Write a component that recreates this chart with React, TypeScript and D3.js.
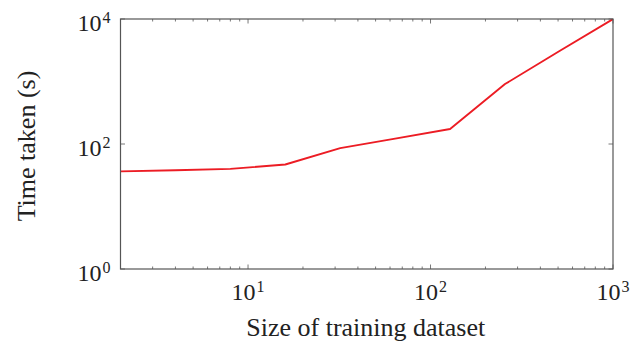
import React, { useEffect, useRef } from 'react';
import * as d3 from 'd3';

// training set sizes and the time taken for each
const sizes = [2, 4, 8, 16, 32, 64, 128, 256, 512, 1024];
const times = [36.5, 38, 40, 47, 86, 122, 174, 910, 3100, 10400];

const xTickExps = [1, 2, 3];
const yTickExps = [0, 2, 4];

const W = 639;
const H = 343;
const margin = { top: 19, right: 26, bottom: 74, left: 120.5 };
const FONT = '"Liberation Serif", "DejaVu Serif", serif';

export default function App() {
  const svgRef = useRef<SVGSVGElement | null>(null);

  useEffect(() => {
    const svg = d3.select(svgRef.current);
    svg.selectAll('*').remove();

    const x = d3.scaleLog().domain([2, 1000]).range([margin.left, W - margin.right]);
    const y = d3.scaleLog().domain([1, 10000]).range([H - margin.bottom, margin.top]);
    const [x0, x1] = x.range();
    const [y0, y1] = y.range();

    svg.append('defs').append('clipPath').attr('id', 'plot-clip')
      .append('rect').attr('x', x0).attr('y', y1).attr('width', x1 - x0).attr('height', y0 - y1);

    // minor + major ticks on x, both top and bottom
    const minor: number[] = [];
    for (let e = 0; e < 3; e++) {
      for (let m = 2; m <= 9; m++) {
        const v = m * Math.pow(10, e);
        if (v > 2 && v < 1000) minor.push(v);
      }
    }
    const ticks = svg.append('g').attr('stroke', '#555').attr('stroke-width', 0.8);
    minor.forEach(v => {
      ticks.append('line').attr('x1', x(v)).attr('x2', x(v)).attr('y1', y0).attr('y2', y0 - 2.5);
      ticks.append('line').attr('x1', x(v)).attr('x2', x(v)).attr('y1', y1).attr('y2', y1 + 2.5);
    });
    xTickExps.forEach(e => {
      const v = Math.pow(10, e);
      ticks.append('line').attr('x1', x(v)).attr('x2', x(v)).attr('y1', y0).attr('y2', y0 - 4.5);
      ticks.append('line').attr('x1', x(v)).attr('x2', x(v)).attr('y1', y1).attr('y2', y1 + 4.5);
    });
    yTickExps.forEach(e => {
      const v = Math.pow(10, e);
      ticks.append('line').attr('x1', x0).attr('x2', x0 + 4.5).attr('y1', y(v)).attr('y2', y(v));
      ticks.append('line').attr('x1', x1).attr('x2', x1 - 4.5).attr('y1', y(v)).attr('y2', y(v));
    });

    // data line
    const line = d3.line<number>()
      .x((_, i) => x(sizes[i]))
      .y(d => y(d));
    svg.append('path')
      .datum(times)
      .attr('clip-path', 'url(#plot-clip)')
      .attr('fill', 'none')
      .attr('stroke', '#ec1c24')
      .attr('stroke-width', 1.9)
      .attr('stroke-linejoin', 'round')
      .attr('d', line);

    // frame
    svg.append('rect')
      .attr('x', x0).attr('y', y1).attr('width', x1 - x0).attr('height', y0 - y1)
      .attr('fill', 'none').attr('stroke', '#555').attr('stroke-width', 1.2);

    // tick labels with superscript exponents
    const addPow = (tx: number, ty: number, exp: number, anchor: string) => {
      const t = svg.append('text')
        .attr('x', tx).attr('y', ty)
        .attr('text-anchor', anchor)
        .attr('font-family', FONT)
        .attr('font-size', 24)
        .attr('fill', '#222');
      t.append('tspan').text('10');
      t.append('tspan').attr('dx', 1).attr('dy', -8).attr('font-size', 16).text(String(exp));
    };
    xTickExps.forEach(e => addPow(x(Math.pow(10, e)), y0 + 31, e, 'middle'));
    yTickExps.forEach(e => addPow(x0 - 10, y(Math.pow(10, e)) + 12, e, 'end'));

    svg.append('text')
      .attr('x', (x0 + x1) / 2 - 1).attr('y', 336)
      .attr('text-anchor', 'middle')
      .attr('font-family', FONT).attr('font-size', 26).attr('fill', '#222')
      .text('Size of training dataset');

    svg.append('text')
      .attr('transform', `translate(35,146) rotate(-90)`)
      .attr('text-anchor', 'middle')
      .attr('font-family', FONT).attr('font-size', 26).attr('fill', '#222')
      .text('Time taken (s)');
  }, []);

  return (
    <svg
      ref={svgRef}
      width={W}
      height={H}
      style={{ position: 'absolute', left: 0, top: 0, background: '#fff' }}
    />
  );
}
